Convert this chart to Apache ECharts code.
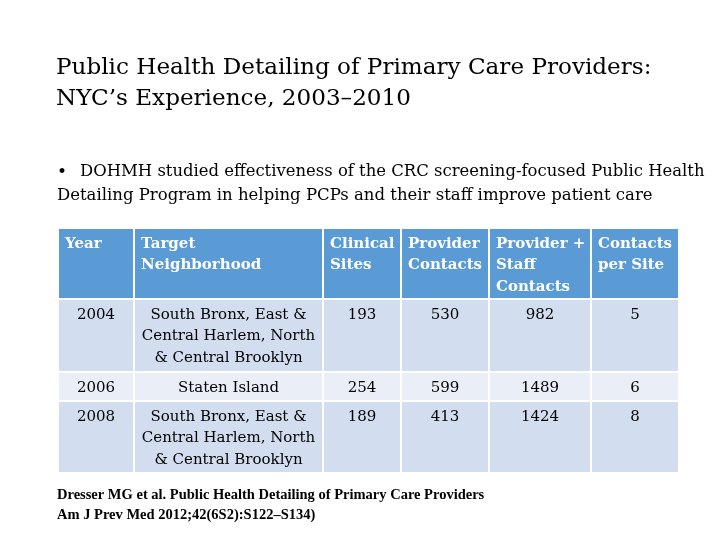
<!DOCTYPE html>
<html><head><meta charset="utf-8">
<script src="https://cdn.jsdelivr.net/npm/echarts@6/dist/echarts.min.js"></script>
<style>html,body{margin:0;padding:0;background:#fff}#c{width:720px;height:540px}</style>
</head><body><div id="c"></div>
<script>
// ---- data ----
var headers = ['Year', 'Target\nNeighborhood', 'Clinical\nSites', 'Provider\nContacts', 'Provider +\nStaff\nContacts', 'Contacts\nper Site'];
var years = ['2004', '2006', '2008'];
var neighborhoods = ['South Bronx, East &\nCentral Harlem, North\n& Central Brooklyn', 'Staten Island', 'South Bronx, East &\nCentral Harlem, North\n& Central Brooklyn'];
var clinicalSites = [193, 254, 189];
var providerContacts = [530, 599, 413];
var staffContacts = [982, 1489, 1424];
var contactsPerSite = [5, 6, 8];
var titleLines = ['Public Health Detailing of Primary Care Providers:', 'NYC\u2019s Experience, 2003\u20132010'];
var bulletLines = ['\u2022', 'DOHMH studied effectiveness of the CRC screening-focused Public Health', 'Detailing Program in helping PCPs and their staff improve patient care'];
var refLines = ['Dresser MG et al. Public Health Detailing of Primary Care Providers', 'Am J Prev Med 2012;42(6S2):S122\u2013S134)'];

// ---- layout ----
var colEdges = [59, 135, 324, 402, 490, 592, 680];
var rowEdges = [229, 300, 373, 402, 474];
var GAP = 2;
var FONT = 'Liberation Serif';
var TFONT = 'DejaVu Serif';

var cells = [];
headers.forEach(function (h, c) { cells.push([c, 0, h]); });
for (var r = 0; r < years.length; r++) {
  var vals = [years[r], neighborhoods[r], clinicalSites[r], providerContacts[r], staffContacts[r], contactsPerSite[r]];
  vals.forEach(function (v, c) { cells.push([c, r + 1, String(v)]); });
}

var chart = echarts.init(document.getElementById('c'), null, { renderer: 'canvas' });
chart.setOption({
  animation: false,
  grid: { left: 0, right: 0, top: 0, bottom: 0 },
  xAxis: { type: 'value', min: 0, max: 720, show: false },
  yAxis: { type: 'value', min: 0, max: 540, inverse: true, show: false },
  graphic: [
    { type: 'text', left: 56, top: 52, style: { text: titleLines.join('\n'), font: '23.1px ' + TFONT, fill: '#000', lineHeight: 31 } },
    { type: 'text', left: 57, top: 164, style: { text: bulletLines[0], font: '17px ' + TFONT, fill: '#000' } },
    { type: 'text', left: 80, top: 164, style: { text: bulletLines[1], font: '16.45px ' + TFONT, fill: '#000' } },
    { type: 'text', left: 57, top: 187, style: { text: bulletLines[2], font: '16.5px ' + TFONT, fill: '#000' } },
    { type: 'text', left: 57, top: 485, style: { text: refLines.join('\n'), font: 'bold 14.5px ' + FONT, fill: '#000', lineHeight: 20 } }
  ],
  series: [{
    type: 'custom',
    data: cells,
    renderItem: function (params, api) {
      var c = api.value(0), r = api.value(1);
      var txt = cells[params.dataIndex][2];
      var p0 = api.coord([colEdges[c], rowEdges[r]]);
      var p1 = api.coord([colEdges[c + 1] - GAP, rowEdges[r + 1] - GAP]);
      var isHead = r === 0;
      var fill = isHead ? '#5B9BD5' : (r === 2 ? '#E9EEF7' : '#D2DEEF');
      return {
        type: 'group',
        children: [
          { type: 'rect', shape: { x: p0[0], y: p0[1], width: p1[0] - p0[0], height: p1[1] - p0[1] }, style: { fill: fill } },
          { type: 'text', style: {
              text: txt,
              x: isHead ? p0[0] + 6 : (p0[0] + p1[0]) / 2,
              y: p0[1] + 4,
              align: isHead ? 'left' : 'center',
              verticalAlign: 'top',
              font: (isHead ? 'bold ' : '') + '15px ' + TFONT,
              lineHeight: 21.5,
              fill: isHead ? '#fff' : '#000'
          } }
        ]
      };
    }
  }]
});
</script></body></html>
